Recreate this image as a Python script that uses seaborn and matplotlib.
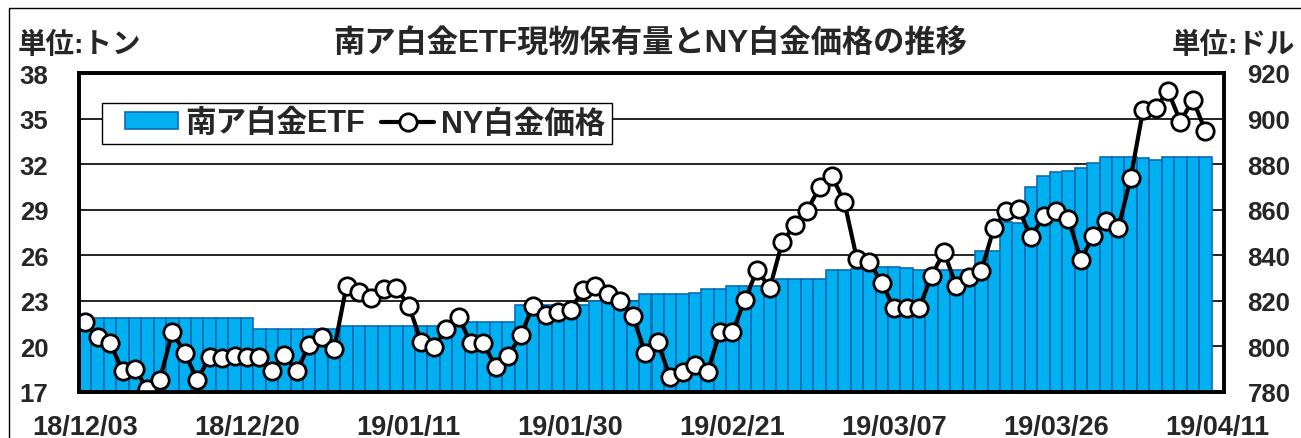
import numpy as np
import pandas as pd
import matplotlib.pyplot as plt
import seaborn as sns
from matplotlib.patches import Rectangle

# ETF holdings (tons), one value per trading day; last slot (19/04/11) has no data
etf_tons = ([21.9] * 14 + [21.15] * 7 + [21.35] * 10 + [21.6] * 4 + [22.75] * 6
            + [23.0] * 4 + [23.45] * 4 + [23.55] + [23.8] * 2 + [24.0] * 4
            + [24.45] * 4 + [25.0] * 2 + [25.1] + [25.2] * 3 + [25.15]
            + [25.05] * 2 + [25.0] * 3 + [26.25] * 2
            + [28.2, 28.15, 30.5, 31.2, 31.5, 31.55, 31.75, 32.1, 32.5, 32.5,
               32.45, 32.4, 32.3, 32.45, 32.45, 32.45, 32.5])

# NY platinum price (USD)
ny_price = [810.6, 804.0, 801.5, 789.3, 790.0, 781.3, 785.4, 806.5, 797.1, 785.4,
            795.2, 795.0, 795.7, 795.5, 795.5, 789.3, 796.2, 789.3, 800.6, 804.0,
            798.9, 826.7, 823.8, 821.1, 825.2, 825.5, 817.9, 801.8, 799.8, 807.6,
            812.8, 801.4, 801.4, 790.8, 795.9, 805.0, 817.9, 813.8, 815.2, 816.1,
            824.8, 826.4, 823.0, 820.1, 813.2, 797.1, 801.8, 786.4, 788.9, 791.9,
            788.9, 806.2, 806.2, 820.5, 833.7, 825.5, 845.7, 853.3, 859.6, 869.8,
            874.7, 863.3, 838.5, 837.2, 827.8, 816.7, 816.7, 816.7, 831.0, 841.5,
            826.4, 830.6, 833.2, 851.8, 859.6, 860.3, 847.9, 857.1, 859.6, 855.9,
            838.1, 848.6, 855.2, 851.8, 873.9, 903.9, 904.6, 912.2, 898.6, 908.3,
            894.7]

tick_dates = ["18/12/03", "18/12/20", "19/01/11", "19/01/30",
              "19/02/21", "19/03/07", "19/03/26", "19/04/11"]

sns.set_style("white")
plt.rcParams['font.family'] = ['Liberation Sans', 'Noto Sans CJK JP']
plt.rcParams['font.weight'] = 'bold'

n_slots = 92
df = pd.DataFrame({"day": range(len(etf_tons)), "etf": etf_tons, "price": ny_price})

fig = plt.figure(figsize=(13.01, 4.39), dpi=100)
ax = fig.add_axes([79 / 1301, 1 - 393 / 439, 1145 / 1301, 319 / 439])

sns.barplot(data=df, x="day", y="etf", ax=ax, width=1.0, color="#00b0f0",
            saturation=1, edgecolor="#0b6cb5", linewidth=1.2, label="南ア白金ETF")
if ax.get_legend() is not None:
    ax.get_legend().remove()
ax.set_xlim(-0.5, n_slots - 0.5)
ax.set_ylim(17, 38)
ax.set_yticks(range(17, 39, 3))
ax.yaxis.grid(True, color="black", lw=1.2)
ax.set_axisbelow(True)
ax.set_xlabel("")
ax.set_ylabel("")

ax2 = ax.twinx()
sns.lineplot(data=df, x="day", y="price", ax=ax2, color="black", lw=3.0,
             marker="o", markersize=12.5, markerfacecolor="white",
             markeredgecolor="black", markeredgewidth=2.0, label="NY白金価格")
ax2.set_ylim(780, 920)
ax2.set_yticks(range(780, 921, 20))
ax2.set_ylabel("")
ax2.set_xlabel("")

label_pos = list(range(0, n_slots, 13))
ax.set_xticks(label_pos)
ax.set_xticklabels(tick_dates)
ax.set_xticks(np.arange(0.5, len(etf_tons), 1), minor=True)
ax.set_xlim(-0.5, n_slots - 0.5)

ax.tick_params(axis="x", which="major", length=0, labelsize=19.5, pad=16)
ax.tick_params(axis="x", which="minor", direction="in", length=5, width=1.5, color="black")
ax.tick_params(axis="y", direction="in", length=6, width=1.2, labelsize=18.5, pad=22)
ax2.tick_params(axis="y", direction="in", length=6, width=1.2, labelsize=18.5, pad=17)

for a in (ax, ax2):
    for s in a.spines.values():
        s.set_linewidth(2.6)
        s.set_color("black")

# legend box drawn separately so its padding can match the original
ax2.add_patch(Rectangle((23 / 1145, (393 - 145) / 319), 510 / 1145, 41 / 319,
                        transform=ax2.transAxes, facecolor="white", edgecolor="black",
                        lw=1.0, zorder=5))
h1, l1 = ax.get_legend_handles_labels()
h2, l2 = ax2.get_legend_handles_labels()
leg = ax2.legend(h1 + h2, l1 + l2, loc="center left",
                 bbox_to_anchor=(46 / 1145, (393 - 124.5) / 319),
                 ncol=2, frameon=False, borderaxespad=0, borderpad=0,
                 handlelength=1.73, handleheight=0.46, handletextpad=0.23,
                 columnspacing=0.55, prop={"size": 22, "weight": "bold"})
leg.set_zorder(6)

fig.text(18 / 1301, 1 - 45 / 439, "単位:トン", ha="left", va="center", fontsize=20.5, weight="bold")
fig.text(1172 / 1301, 1 - 45 / 439, "単位:ドル", ha="left", va="center", fontsize=20.5, weight="bold")
fig.text(0.5, 1 - 45 / 439, "南ア白金ETF現物保有量とNY白金価格の推移",
         ha="center", va="center", fontsize=22.5, weight="bold")

fig.patches.append(Rectangle((9 / 1301, -0.1), 1.1, 1.1 - 9 / 439, transform=fig.transFigure,
                             fill=False, edgecolor="black", lw=1.0))

fig.savefig("out.png", dpi=100)
